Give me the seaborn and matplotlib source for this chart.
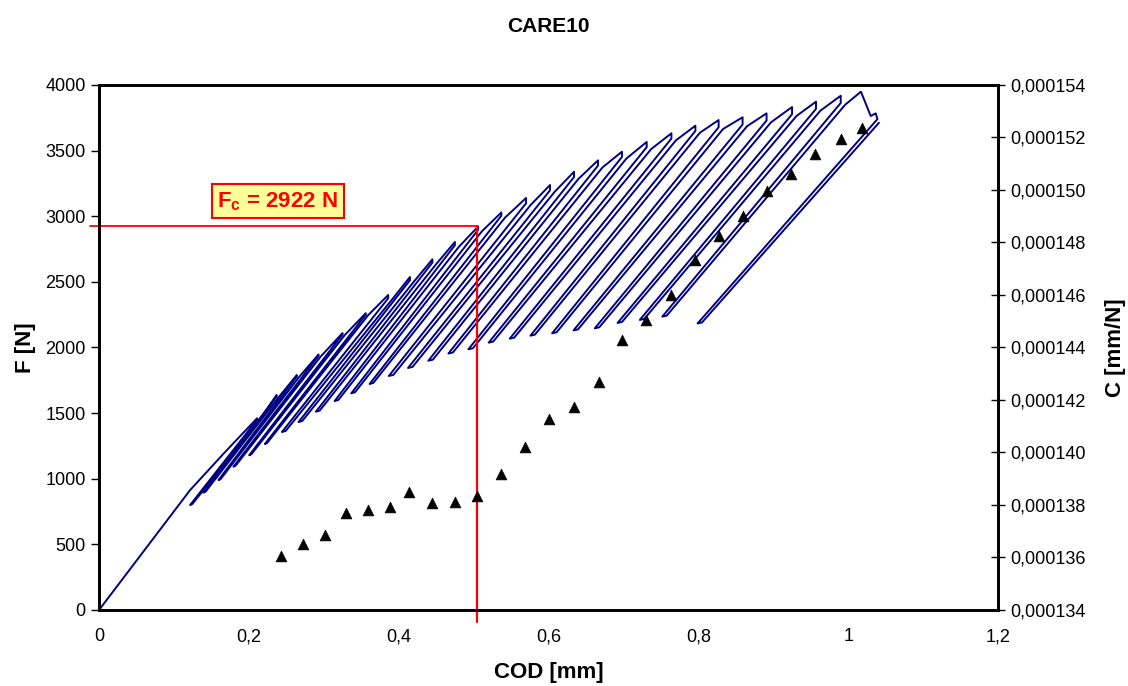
import matplotlib
matplotlib.use("Agg")
import matplotlib.pyplot as plt
import seaborn as sns
import pandas as pd
from matplotlib.ticker import FuncFormatter, MultipleLocator

# initial loading branch (COD mm, F N)
init_x = [0.0, 0.1216, 0.1683]
init_F = [0, 914, 1204]

# cycle peaks
peak_x = [0.211, 0.237, 0.264, 0.293, 0.325, 0.356, 0.386, 0.415, 0.445, 0.475, 0.506, 0.537, 0.570,
          0.602, 0.634, 0.666, 0.698, 0.731, 0.764, 0.796, 0.827, 0.859, 0.891, 0.925, 0.957, 0.990, 1.017]
peak_F = [1461, 1638, 1790, 1947, 2110, 2261, 2400, 2537, 2672, 2804, 2922, 3029, 3139,
          3238, 3339, 3426, 3492, 3566, 3632, 3690, 3733, 3754, 3784, 3832, 3873, 3918, 3949]
# force where unloading starts (after the small drop at the peak)
unload_F = [1450, 1628, 1780, 1937, 2100, 2250, 2375, 2512, 2647, 2779, 2897, 3004, 3099,
            3198, 3299, 3386, 3452, 3526, 3592, 3650, 3678, 3699, 3729, 3777, 3818, 3863]
# end of each unloading
valley_x = [0.1216, 0.1393, 0.1594, 0.1794, 0.2004, 0.2214, 0.2441, 0.2663, 0.2895, 0.3144, 0.3367,
            0.3611, 0.3868, 0.4124, 0.4395, 0.4663, 0.4930, 0.5201, 0.5482, 0.5758, 0.6048, 0.6333,
            0.6617, 0.6921, 0.7218, 0.7518, 0.7989]
valley_F = [800, 894, 990, 1092, 1179, 1265, 1356, 1432, 1511, 1592, 1651, 1722, 1783, 1844, 1899,
            1954, 1986, 2037, 2067, 2090, 2108, 2130, 2146, 2187, 2210, 2235, 2183]
# start of reloading, just after the turn at the bottom of each loop
turn_x = [0.1246, 0.1423, 0.1624, 0.1824, 0.2034, 0.2244, 0.2491, 0.2713, 0.2945, 0.3194, 0.3417,
          0.3661, 0.3928, 0.4184, 0.4455, 0.4723, 0.4990, 0.5261, 0.5542, 0.5818, 0.6108, 0.6393,
          0.6677, 0.6981, 0.7278, 0.7578, 0.8049]
turn_F = [808, 902, 998, 1100, 1187, 1273, 1364, 1440, 1519, 1600, 1659, 1730, 1791, 1852, 1907,
          1962, 1994, 2045, 2075, 2098, 2116, 2138, 2154, 2195, 2218, 2243, 2191]
# where reloading rejoins the envelope
knee_x = [0.214, 0.240, 0.267, 0.296, 0.328, 0.359, 0.391, 0.420, 0.450, 0.480, 0.511, 0.542, 0.576,
          0.608, 0.640, 0.672, 0.704, 0.737, 0.770, 0.802, 0.833, 0.865, 0.897, 0.931, 0.963, 0.996]
knee_F = [1445, 1623, 1775, 1932, 2095, 2245, 2365, 2500, 2635, 2765, 2885, 2990, 3085,
          3185, 3285, 3372, 3440, 3512, 3578, 3636, 3665, 3686, 3716, 3764, 3805, 3850]
# last cycle: drop after max load, then final unload/reload
last_drop_x = [1.030, 1.0367, 1.039]
last_drop_F = [3764, 3784, 3740]
end_x, end_F = 1.041, 3712

# compliance C (mm/N)
tri_x = [0.243, 0.272, 0.301, 0.329, 0.359, 0.389, 0.414, 0.444, 0.475, 0.505, 0.537, 0.569, 0.601,
         0.634, 0.667, 0.698, 0.730, 0.764, 0.795, 0.827, 0.859, 0.891, 0.923, 0.956, 0.990, 1.018]
tri_C = [1.3606e-4, 1.3650e-4, 1.3684e-4, 1.3768e-4, 1.3781e-4, 1.3791e-4, 1.3851e-4, 1.3806e-4,
         1.3810e-4, 1.3834e-4, 1.3917e-4, 1.4020e-4, 1.4126e-4, 1.4175e-4, 1.4267e-4, 1.4427e-4,
         1.4505e-4, 1.4599e-4, 1.4733e-4, 1.4826e-4, 1.4901e-4, 1.4996e-4, 1.5062e-4, 1.5136e-4,
         1.5194e-4, 1.5235e-4]

Fc_x, Fc = 0.505, 2922

# build the load trace in recording order
xs, fs = list(init_x), list(init_F)
n = len(unload_F)
for i in range(n):
    xs += [peak_x[i], peak_x[i], valley_x[i], turn_x[i], knee_x[i]]
    fs += [peak_F[i], unload_F[i], valley_F[i], turn_F[i], knee_F[i]]
xs += [peak_x[n]] + last_drop_x + [valley_x[n], turn_x[n], end_x]
fs += [peak_F[n]] + last_drop_F + [valley_F[n], turn_F[n], end_F]
trace = pd.DataFrame({"COD": xs, "F": fs})
comp = pd.DataFrame({"COD": tri_x, "C": tri_C})

sns.set_theme(style="white")
plt.rcParams["font.family"] = ["Liberation Sans", "DejaVu Sans"]
plt.rcParams["mathtext.fontset"] = "custom"
plt.rcParams["mathtext.rm"] = "Liberation Sans"
plt.rcParams["mathtext.bf"] = "Liberation Sans:bold"
plt.rcParams["text.color"] = "black"
plt.rcParams["axes.labelcolor"] = "black"

fig = plt.figure(figsize=(11.28, 6.86), dpi=100)
ax = fig.add_axes([0.0878, 0.1108, 0.797, 0.7653])

sns.lineplot(data=trace, x="COD", y="F", sort=False, estimator=None, color="#000080",
             linewidth=1.4, ax=ax)

ax2 = ax.twinx()
sns.scatterplot(data=comp, x="COD", y="C", marker="^", color="black", s=60, edgecolor="black",
                linewidth=0.5, ax=ax2, zorder=5)

# critical load lines
ax.plot([-0.012, Fc_x], [Fc, Fc], color="red", lw=1.3, clip_on=False, zorder=4)
ax.plot([Fc_x, Fc_x], [Fc, -90], color="red", lw=1.6, clip_on=False, zorder=4)
ax.text(0.2385, 3114, r"$\mathbf{F_c}$ = 2922 N", color="red", fontsize=16, fontweight="bold",
        ha="center", va="center",
        bbox=dict(boxstyle="square,pad=0.25", fc="#FFFF99", ec="red", lw=1.5))

ax.set_xlim(0, 1.2)
ax.set_ylim(0, 4000)
ax2.set_ylim(0.000134, 0.000154)
ax.xaxis.set_major_locator(MultipleLocator(0.2))
ax.yaxis.set_major_locator(MultipleLocator(500))
ax2.yaxis.set_major_locator(MultipleLocator(0.000002))
ax.xaxis.set_major_formatter(FuncFormatter(lambda v, p: f"{v:.1f}".rstrip("0").rstrip(".").replace(".", ",")))
ax2.yaxis.set_major_formatter(FuncFormatter(lambda v, p: f"{v:.6f}".replace(".", ",")))

for a in (ax, ax2):
    for s in a.spines.values():
        s.set_linewidth(2)
        s.set_color("black")
ax.tick_params(axis="both", direction="out", length=6, width=1, labelsize=13, colors="black")
ax.tick_params(axis="x", pad=7)
ax2.tick_params(axis="y", direction="inout", length=10, width=1, labelsize=13, colors="black")

ax.set_xlabel("COD [mm]", fontsize=16, fontweight="bold", labelpad=12)
ax.set_ylabel("F [N]", fontsize=16, fontweight="bold", labelpad=7)
ax2.set_ylabel("C [mm/N]", fontsize=16, fontweight="bold", labelpad=14)
ax.set_title("CARE10", fontsize=15, fontweight="bold", pad=38)

fig.savefig("out.png", dpi=100, facecolor="white")
